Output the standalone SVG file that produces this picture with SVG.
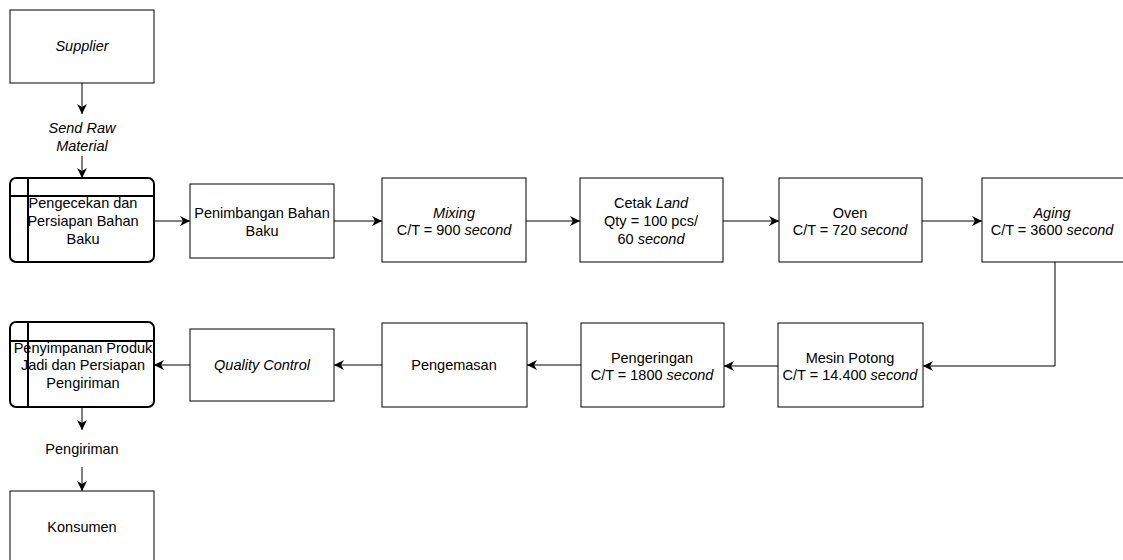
<svg xmlns="http://www.w3.org/2000/svg" width="1123" height="560" viewBox="0 0 1123 560">
  <defs>
    <marker id="arrow" viewBox="0 0 10 10" refX="10" refY="5" markerWidth="10" markerHeight="10" markerUnits="userSpaceOnUse" orient="auto">
      <path d="M0,0 L10,5 L0,10 L3,5 Z" fill="#000"/>
    </marker>
    <style>
      .box { fill: #fff; stroke: #000; stroke-width: 1; }
      .store { fill: #fff; stroke: #000; stroke-width: 2; }
      .inner { stroke: #000; stroke-width: 2; fill: none; }
      .edge { fill: none; stroke: #000; stroke-width: 1; marker-end: url(#arrow); }
      text { font-family: "Liberation Sans", Arial, Helvetica, sans-serif; font-size: 14.5px; fill: #000; text-anchor: middle; }
      .it { font-style: italic; }
    </style>
  </defs>

  <rect width="1123" height="560" fill="#fff"/>

  <!-- connectors -->
  <g id="connectors">
    <line class="edge" x1="82" y1="83" x2="82" y2="114"/>
    <line class="edge" x1="82" y1="156" x2="82" y2="178"/>
    <line class="edge" x1="154" y1="221" x2="190" y2="221"/>
    <line class="edge" x1="334" y1="221" x2="382" y2="221"/>
    <line class="edge" x1="526" y1="221" x2="580" y2="221"/>
    <line class="edge" x1="723" y1="221" x2="779" y2="221"/>
    <line class="edge" x1="922" y1="221" x2="982" y2="221"/>
    <polyline class="edge" points="1055,262 1055,366 923,366"/>
    <line class="edge" x1="778" y1="366" x2="724" y2="366"/>
    <line class="edge" x1="581" y1="365" x2="527" y2="365"/>
    <line class="edge" x1="382" y1="365" x2="334" y2="365"/>
    <line class="edge" x1="190" y1="365" x2="154" y2="365"/>
    <line class="edge" x1="82" y1="407" x2="82" y2="430"/>
    <line class="edge" x1="82" y1="467" x2="82" y2="491"/>
  </g>

  <!-- edge labels -->
  <g id="label-send-raw">
    <text class="it" x="82" y="133">Send Raw</text>
    <text class="it" x="82" y="151">Material</text>
  </g>
  <g id="label-pengiriman">
    <text x="82" y="454">Pengiriman</text>
  </g>

  <!-- nodes -->
  <g id="supplier">
    <rect class="box" x="10" y="10" width="144" height="73"/>
    <text class="it" x="82" y="51">Supplier</text>
  </g>

  <g id="pengecekan">
    <rect class="store" x="10" y="178" width="144" height="84" rx="6" ry="6"/>
    <line class="inner" x1="28" y1="178" x2="28" y2="262"/>
    <line class="inner" x1="10" y1="196" x2="154" y2="196"/>
    <text x="83" y="208">Pengecekan dan</text>
    <text x="83" y="226">Persiapan Bahan</text>
    <text x="83" y="244">Baku</text>
  </g>

  <g id="penimbangan">
    <rect class="box" x="190" y="184" width="144" height="74"/>
    <text x="262" y="218">Penimbangan Bahan</text>
    <text x="262" y="236">Baku</text>
  </g>

  <g id="mixing">
    <rect class="box" x="382" y="178" width="144" height="84"/>
    <text class="it" x="454" y="218">Mixing</text>
    <text x="454" y="235">C/T = 900 <tspan class="it">second</tspan></text>
  </g>

  <g id="cetak-land">
    <rect class="box" x="580" y="178" width="143" height="84"/>
    <text x="651" y="208">Cetak <tspan class="it">Land</tspan></text>
    <text x="651" y="226">Qty = 100 pcs/</text>
    <text x="651" y="244">60 <tspan class="it">second</tspan></text>
  </g>

  <g id="oven">
    <rect class="box" x="779" y="178" width="143" height="84"/>
    <text x="850" y="218">Oven</text>
    <text x="850" y="235">C/T = 720 <tspan class="it">second</tspan></text>
  </g>

  <g id="aging">
    <rect class="box" x="982" y="178" width="144" height="84"/>
    <text class="it" x="1052" y="218">Aging</text>
    <text x="1052" y="235">C/T = 3600 <tspan class="it">second</tspan></text>
  </g>

  <g id="mesin-potong">
    <rect class="box" x="778" y="323" width="145" height="84"/>
    <text x="850" y="363">Mesin Potong</text>
    <text x="850" y="380">C/T = 14.400 <tspan class="it">second</tspan></text>
  </g>

  <g id="pengeringan">
    <rect class="box" x="581" y="323" width="143" height="84"/>
    <text x="652" y="363">Pengeringan</text>
    <text x="652" y="380">C/T = 1800 <tspan class="it">second</tspan></text>
  </g>

  <g id="pengemasan">
    <rect class="box" x="382" y="323" width="145" height="84"/>
    <text x="454" y="370">Pengemasan</text>
  </g>

  <g id="quality-control">
    <rect class="box" x="190" y="329" width="144" height="72"/>
    <text class="it" x="262" y="370">Quality Control</text>
  </g>

  <g id="penyimpanan">
    <rect class="store" x="10" y="322" width="144" height="85" rx="6" ry="6"/>
    <line class="inner" x1="28" y1="322" x2="28" y2="407"/>
    <line class="inner" x1="10" y1="341" x2="154" y2="341"/>
    <text x="83" y="353">Penyimpanan Produk</text>
    <text x="83" y="370">Jadi dan Persiapan</text>
    <text x="83" y="388">Pengiriman</text>
  </g>

  <g id="konsumen">
    <rect class="box" x="10" y="491" width="144" height="80"/>
    <text x="82" y="532">Konsumen</text>
  </g>
</svg>
